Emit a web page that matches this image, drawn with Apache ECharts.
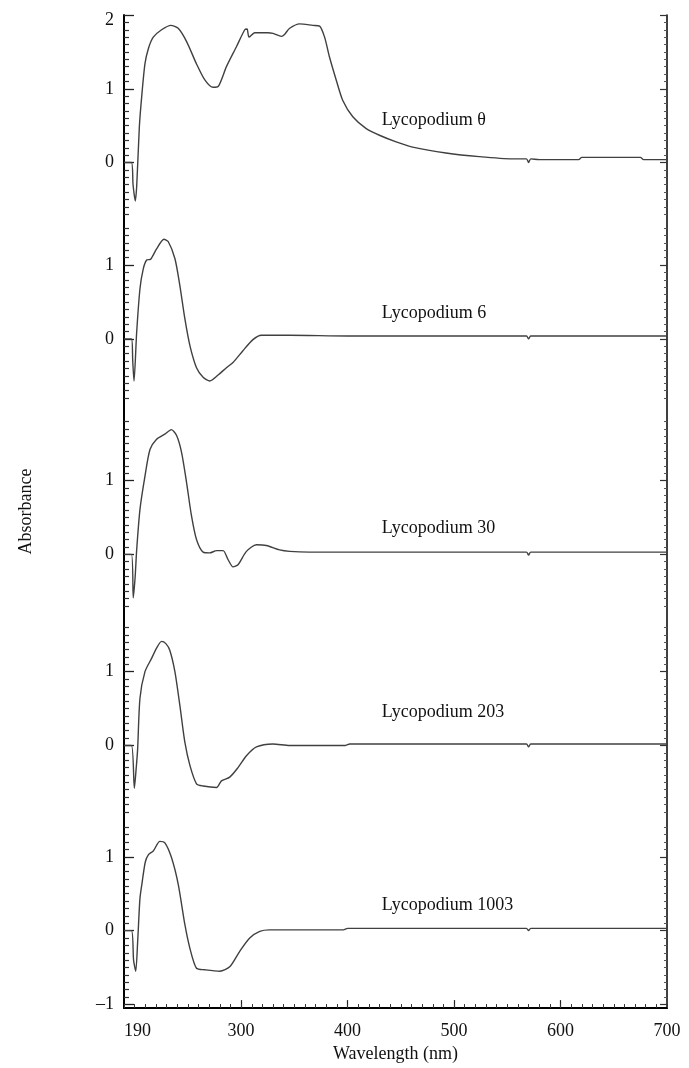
<!DOCTYPE html>
<html><head><meta charset="utf-8">
<script src="https://cdn.jsdelivr.net/npm/echarts@6/dist/echarts.min.js"></script>
<style>html,body{margin:0;padding:0;background:#fff}#c{width:689px;height:1068px}</style>
</head><body><div id="c"></div>
<script>
const names = ['Lycopodium θ', 'Lycopodium 6', 'Lycopodium 30', 'Lycopodium 203', 'Lycopodium 1003'];

const wl1 = [190, 197, 198.5, 200.6, 202, 204.4, 206.6, 209.7, 213, 217.5, 225.3, 234, 240.9, 248.8, 258, 265.9, 273.7, 278.4, 286.2, 295.6, 303.4, 305.6, 307.4, 312.8, 325, 330, 338, 341, 345.6, 355, 367.4, 373.7, 378.4, 383, 389.3, 395.5, 404.9, 417.5, 429.9, 445.6, 461.1, 492.4, 523.6, 554.9, 568, 570, 572, 580, 617, 620, 675, 678, 700];
const ab1 = [0, 0, -0.3, -0.52, -0.3, 0.48, 0.89, 1.34, 1.55, 1.70, 1.80, 1.86, 1.82, 1.64, 1.34, 1.12, 1.02, 1.03, 1.30, 1.57, 1.80, 1.81, 1.70, 1.76, 1.76, 1.75, 1.71, 1.74, 1.82, 1.88, 1.86, 1.85, 1.70, 1.43, 1.12, 0.84, 0.62, 0.46, 0.37, 0.28, 0.21, 0.13, 0.08, 0.05, 0.05, 0.0, 0.05, 0.04, 0.04, 0.07, 0.07, 0.04, 0.04];

const wl2 = [190, 197, 198.2, 199.4, 201.9, 205, 208.1, 211.3, 215, 220.6, 227.5, 231.5, 237.8, 242.4, 247.2, 251.9, 258.1, 264.3, 270.6, 278.4, 286.2, 292.4, 301.7, 311.1, 319, 345.6, 400, 568, 570, 572, 700];
const ab2 = [0, 0, -0.3, -0.57, 0.09, 0.68, 0.95, 1.07, 1.08, 1.22, 1.35, 1.32, 1.09, 0.73, 0.27, -0.09, -0.39, -0.52, -0.57, -0.49, -0.39, -0.32, -0.16, -0.01, 0.05, 0.05, 0.04, 0.04, 0.0, 0.04, 0.04];

const wl3 = [190, 197, 198.7, 200.5, 201.9, 205, 209.7, 214.4, 220.6, 228.4, 234.6, 239.4, 244.1, 248.8, 253.4, 258.1, 264.3, 270.6, 276.9, 283.1, 287.7, 292.4, 297.1, 305, 314.4, 323.7, 336.2, 345.6, 364, 568, 570, 572, 700];
const ab3 = [0, 0, -0.59, -0.3, 0.06, 0.61, 1.06, 1.42, 1.56, 1.63, 1.69, 1.61, 1.38, 0.97, 0.52, 0.20, 0.03, 0.02, 0.05, 0.05, -0.07, -0.17, -0.14, 0.04, 0.13, 0.12, 0.06, 0.04, 0.03, 0.03, -0.01, 0.03, 0.03];

const wl4 = [190, 197, 199.7, 201.5, 202.8, 205, 209.7, 215.9, 220.6, 225.3, 229.3, 233, 237.8, 242.5, 247.2, 251.9, 258.1, 264.3, 276.9, 281.5, 289.3, 297.1, 305, 314.4, 329.9, 345.6, 398, 402, 568, 570, 572, 700];
const ab4 = [0, 0, -0.58, -0.3, -0.05, 0.64, 1.0, 1.18, 1.32, 1.41, 1.38, 1.29, 1.0, 0.54, 0.04, -0.27, -0.52, -0.55, -0.57, -0.48, -0.43, -0.30, -0.14, -0.02, 0.02, 0.0, 0.0, 0.02, 0.02, -0.02, 0.02, 0.02];

const wl5 = [190, 197, 199, 201, 203, 205, 207, 210, 213, 217.5, 223.7, 228.4, 234.6, 240.9, 247.2, 251.9, 258.1, 265.9, 280, 289.3, 298.7, 308.1, 317.5, 326.8, 345.6, 396, 400, 568, 570, 572, 700];
const ab5 = [0, 0, -0.4, -0.55, -0.1, 0.44, 0.65, 0.93, 1.03, 1.08, 1.21, 1.19, 0.99, 0.63, 0.08, -0.24, -0.51, -0.53, -0.55, -0.49, -0.28, -0.10, -0.01, 0.01, 0.01, 0.01, 0.03, 0.03, 0.0, 0.03, 0.03];

const wavelengths = [wl1, wl2, wl3, wl4, wl5];
const absorbances = [ab1, ab2, ab3, ab4, ab5];

const xTickLabels = [190, 300, 400, 500, 600, 700];
const yTickValues = [[0, 1, 2], [0, 1], [0, 1], [0, 1], [-1, 0, 1]];
const yTickLabels = [['0', '1', '2'], ['0', '1'], ['0', '1'], ['0', '1'], ['–1', '0', '1']];
const tickRanges = [[-0.7, 2.0], [-0.8, 1.5], [-0.7, 1.8], [-0.9, 1.6], [-1.0, 1.4]];
const offsets = [11.46, 9.07, 6.15, 3.56, 1.05];
const annoX = [432, 432, 432, 432, 432];
const annoY = [0.58, 0.35, 0.35, 0.45, 0.35];

const Y_MAX = +(offsets[0] + 2).toFixed(3);
const FONT = '"Liberation Serif", "DejaVu Serif", serif';

const majorY = [], minorY = [], labelMap = {};
yTickValues.forEach((vals, p) => {
  vals.forEach((v, i) => {
    const g = +(offsets[p] + v).toFixed(3);
    majorY.push(g);
    labelMap[g.toFixed(3)] = yTickLabels[p][i];
  });
  const [lo, hi] = tickRanges[p];
  for (let k = Math.round(lo * 10); k <= Math.round(hi * 10); k++) {
    if (k % 10 !== 0) minorY.push(+(offsets[p] + k / 10).toFixed(3));
  }
});

const chart = echarts.init(document.getElementById('c'), null, { renderer: 'canvas' });

const series = names.map((nm, p) => ({
  type: 'line',
  name: nm,
  xAxisIndex: 0,
  yAxisIndex: 0,
  showSymbol: false,
  smooth: 0.25,
  lineStyle: { color: '#404040', width: 1.4 },
  data: wavelengths[p].map((w, i) => [w, absorbances[p][i] + offsets[p]]),
  markPoint: {
    symbol: 'circle',
    symbolSize: 0,
    data: [{ coord: [annoX[p], annoY[p] + offsets[p]], name: nm }],
    label: {
      show: true, position: 'right', distance: 0,
      formatter: nm, color: '#111', fontFamily: FONT, fontSize: 18
    }
  },
  silent: true,
  animation: false
}));

const xBase = { type: 'value', min: 190, max: 700, splitLine: { show: false } };
const yBase = { type: 'value', min: 0, max: Y_MAX, splitLine: { show: false } };

chart.setOption({
  backgroundColor: '#fff',
  animation: false,
  grid: { left: 124, right: 22, top: 15, bottom: 50, containLabel: false },
  xAxis: [
    Object.assign({}, xBase, {
      position: 'bottom',
      name: 'Wavelength (nm)', nameLocation: 'middle', nameGap: 33,
      nameTextStyle: { fontFamily: FONT, fontSize: 18, color: '#111' },
      axisLine: { show: true, lineStyle: { color: '#000', width: 2 } },
      axisTick: { show: true, inside: true, length: 8, customValues: [300, 400, 500, 600], lineStyle: { color: '#222', width: 1.2 } },
      axisLabel: { show: true, customValues: xTickLabels, margin: 14, fontFamily: FONT, fontSize: 18, color: '#111', alignMinLabel: 'left' }
    }),
    Object.assign({}, xBase, {
      position: 'bottom',
      axisLine: { show: false },
      axisTick: { show: true, inside: true, length: 4, interval: 0, lineStyle: { color: '#333', width: 1 } },
      interval: 10,
      axisLabel: { show: false }
    }),
    Object.assign({}, xBase, {
      position: 'top',
      axisLine: { show: true, lineStyle: { color: '#000', width: 1.5 } },
      axisTick: { show: false },
      axisLabel: { show: false }
    })
  ],
  yAxis: [
    Object.assign({}, yBase, {
      position: 'left',
      name: 'Absorbance', nameLocation: 'middle', nameGap: 89, nameRotate: 90,
      nameTextStyle: { fontFamily: FONT, fontSize: 18, color: '#111' },
      axisLine: { show: true, lineStyle: { color: '#000', width: 2 } },
      axisTick: { show: true, inside: true, length: 10, customValues: majorY, lineStyle: { color: '#222', width: 1.3 } },
      axisLabel: {
        show: true, customValues: majorY, margin: 10,
        fontFamily: FONT, fontSize: 18, color: '#111',
        formatter: v => {
          const t = labelMap[(+v).toFixed(3)] || '';
          return Math.abs(v - Y_MAX) < 1e-6 ? '{top|' + t + '}' : t;
        },
        rich: { top: { fontFamily: FONT, fontSize: 18, color: '#111', padding: [10, 0, 0, 0] } }
      }
    }),
    Object.assign({}, yBase, {
      position: 'left',
      axisLine: { show: false },
      axisTick: { show: true, inside: true, length: 5, customValues: minorY, lineStyle: { color: '#333', width: 1.2 } },
      axisLabel: { show: false }
    }),
    Object.assign({}, yBase, {
      position: 'right',
      axisLine: { show: true, lineStyle: { color: '#000', width: 1.5 } },
      axisTick: { show: true, inside: true, length: 7, customValues: majorY, lineStyle: { color: '#333', width: 1.2 } },
      axisLabel: { show: false }
    }),
    Object.assign({}, yBase, {
      position: 'right',
      axisLine: { show: false },
      axisTick: { show: true, inside: true, length: 3, customValues: minorY, lineStyle: { color: '#555', width: 1 } },
      axisLabel: { show: false }
    })
  ],
  series: series
});
</script>
</body></html>
